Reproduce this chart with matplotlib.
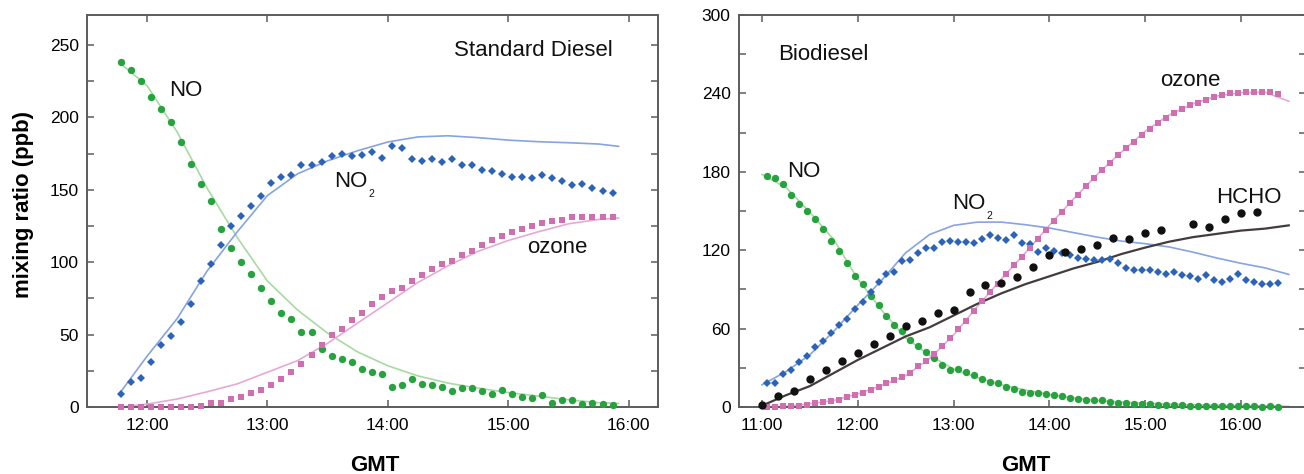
import matplotlib
matplotlib.use("Agg")
import matplotlib.pyplot as plt
from matplotlib.ticker import FixedLocator, MultipleLocator, FuncFormatter

plt.rcParams['font.family'] = ['Liberation Sans', 'DejaVu Sans']

# ---- Standard Diesel (left panel) ----
t_left = ("11:47 11:52 11:57 12:02 12:07 12:12 12:17 12:22 12:27 12:32 12:37 12:42 12:47 "
          "12:52 12:57 13:02 13:07 13:12 13:17 13:22 13:27 13:32 13:37 13:42 13:47 13:52 "
          "13:57 14:02 14:07 14:12 14:17 14:22 14:27 14:32 14:37 14:42 14:47 14:52 14:57 "
          "15:02 15:07 15:12 15:17 15:22 15:27 15:32 15:37 15:42 15:47 15:52").split()
no_left = [238, 233, 225, 214, 206, 197, 183, 168, 154, 142, 123, 110, 100, 92, 82, 73, 65,
           61, 52, 52, 40, 35, 33, 31, 26, 24, 23, 14, 15, 19, 16, 15, 14, 11, 13, 13, 11, 9,
           12, 9, 7, 6, 8, 3, 5, 5, 2, 3, 2, 1.5]
no2_left = [9, 17, 20, 31, 43, 49, 59, 71, 87, 99, 112, 125, 132, 139, 146, 155, 159, 160,
            167, 167, 169, 173, 175, 173, 174, 176, 172, 180, 179, 171, 170, 171, 169, 171,
            167, 167, 164, 163, 161, 159, 159, 158, 160, 158, 156, 153, 154, 151, 149, 148]
o3_left = [0, 0, 0, 0, 0, 0, 0, 0, 1, 2.5, 3, 5.5, 7, 9.5, 12, 15, 19, 24, 30, 36, 43, 50,
           54, 60, 65, 71, 76, 80, 82, 87, 91, 95, 99, 101, 105, 108, 112, 115, 118, 121,
           123, 125, 127, 128.5, 129, 131, 131, 131, 131, 131]

tfit_left = ("11:47 12:00 12:15 12:30 12:45 13:00 13:15 13:30 13:45 14:00 14:15 14:30 "
             "14:45 15:00 15:15 15:30 15:45 15:55").split()
no_fit_left = [237, 222, 190, 151, 117, 87, 67, 51, 38, 28.5, 21.5, 16.5, 13, 10, 7.5, 5, 3, 2.5]
no2_fit_left = [10.6, 35, 61, 94, 121, 146, 161, 170, 177, 183, 186.5, 187.3, 186, 184.3,
                183.2, 182.5, 181.6, 180]
o3_fit_left = [0, 2, 5.5, 10.5, 16, 24, 32, 44, 58, 72, 86, 97.5, 107.5, 115, 121, 126.5,
               129.5, 130.5]

# ---- Biodiesel (right panel) ----
t_right = ("11:03 11:08 11:13 11:18 11:23 11:28 11:33 11:38 11:43 11:48 11:53 11:58 "
           "12:03 12:08 12:13 12:18 12:23 12:28 12:33 12:38 12:43 12:48 12:53 12:58 "
           "13:03 13:08 13:13 13:18 13:23 13:28 13:33 13:38 13:43 13:48 13:53 13:58 "
           "14:03 14:08 14:13 14:18 14:23 14:28 14:33 14:38 14:43 14:48 14:53 14:58 "
           "15:03 15:08 15:13 15:18 15:23 15:28 15:33 15:38 15:43 15:48 15:53 15:58 "
           "16:03 16:08 16:13 16:18 16:23").split()
no_right = [177, 175, 170.5, 162, 155, 150, 144, 136.5, 127, 119.5, 110.5, 100, 94.5, 85,
            78, 70, 63, 58, 51.5, 47, 42, 37.5, 32.5, 28.5, 29, 26.5, 24.5, 21.5, 19.5,
            18.5, 15.5, 13.5, 11.5, 11, 10.7, 10.2, 9.4, 8.2, 6.9, 6.4, 5.6, 5.1, 5.1, 3.8,
            3.3, 3.1, 2.6, 2.6, 2.0, 1.8, 1.8, 1.3, 1.3, 1.0, 0.8, 0.8, 0.5, 0.5, 0.5, 0.5,
            0.5, 0.5, 0.3, 0.5, 0.3]
no2_right = [18, 18.5, 25, 28, 34.5, 39, 46, 50.5, 57, 63, 67.5, 75, 80, 88, 96, 102, 103,
             111.5, 112.5, 118, 122, 122, 126.5, 127, 126.5, 126, 125.5, 128.5, 132, 129,
             127.5, 131.5, 125.5, 125, 118.7, 121.8, 119.2, 117.9, 116.2, 114.4, 113.1,
             112.3, 112.3, 113.1, 110.5, 106, 104.7, 105.2, 104.7, 103.4, 102.1, 103.4,
             100.8, 100.1, 98.3, 100.8, 97.5, 95.7, 98.3, 102.1, 97, 95.7, 94, 94.5, 95]
o3_right = [0, 0, 0.5, 0.5, 1, 1.5, 3, 4, 4.5, 5.5, 7.5, 9.5, 11, 13, 15, 18, 20.5, 23, 26,
            31, 35.5, 40.6, 46.7, 52.6, 59.5, 66.1, 73.8, 81.4, 87.8, 94.2, 101.9, 108.8,
            115.1, 122, 128.7, 135.6, 142.7, 149.1, 156, 162.4, 169.3, 175.1, 181, 187,
            193, 198, 203, 208, 213, 217, 221, 225, 228, 231, 233, 235, 237, 238.5, 240,
            240.5, 241, 241, 241, 241, 239.5]
t_hcho = ("11:00 11:10 11:20 11:30 11:40 11:50 12:00 12:10 12:20 12:30 12:40 12:50 13:00 "
          "13:10 13:20 13:30 13:40 13:50 14:00 14:10 14:20 14:30 14:40 14:50 15:00 15:10 "
          "15:30 15:40 15:50 16:00 16:10").split()
hcho_right = [1.8, 8.2, 12, 21.7, 28.1, 35.2, 41.4, 48, 54.1, 62, 65.9, 71.8, 74.2, 87.7, 93,
              95.1, 99.7, 107, 116.4, 118.5, 120.8, 123.6, 129.3, 128.9, 132.8, 135.8,
              140.4, 137.9, 143.7, 148.1, 149.3]

tfit_right = ("11:00 11:15 11:30 11:45 12:00 12:15 12:30 12:45 13:00 13:15 13:30 13:45 "
              "14:00 14:15 14:30 14:45 15:00 15:15 15:30 15:45 16:00 16:15 16:30").split()
no_fit_right = [178, 168, 149, 128, 98, 74, 53, 39.5, 29, 22.5, 17, 13, 9.5, 7, 5, 3.8, 3,
                2.2, 1.7, 1.3, 1, 0.7, 0.5]
no2_fit_right = [17, 27, 40, 58, 78, 97, 118, 132, 139, 141.5, 141.5, 139.5, 137, 133.5, 130,
                 127, 125, 122.5, 118.5, 114, 110, 106.5, 101.5]
o3_fit_right = [0, 0.5, 2.5, 5, 10, 16.5, 24, 37, 55, 77, 98, 118, 139, 159, 178, 195, 211,
                223.5, 232, 238, 240.5, 241, 234]
hcho_fit_right = [1, 9, 16, 26, 36, 45, 54, 61, 70, 79, 87, 94, 100, 106, 111, 117, 122,
                  126.5, 130, 132.5, 135, 136.5, 139]

# colours
GREEN, GREEN_L = '#26a23e', '#a6dba0'
BLUE, BLUE_L = '#2c63b6', '#86a3e2'
PINK, PINK_L = '#cf6fb1', '#e6a9d6'
BLACK, BLACK_L = '#111111', '#433c3c'
SPINE = '#5c5c5c'


def hrs(ts):
    return [int(t[:2]) + int(t[3:]) / 60 for t in ts]


def style(ax, ymax, ymajor, yminor, hours):
    ax.set_ylim(0, ymax)
    ax.yaxis.set_major_locator(MultipleLocator(ymajor))
    ax.yaxis.set_minor_locator(MultipleLocator(yminor))
    ax.xaxis.set_major_locator(FixedLocator(hours))
    ax.xaxis.set_major_formatter(FuncFormatter(lambda v, p: "%d:00" % round(v)))
    ax.tick_params(which='both', direction='in', top=True, right=True,
                   length=5, width=1.1, color=SPINE, labelsize=12.5)
    ax.tick_params(axis='x', pad=8)
    ax.tick_params(axis='y', pad=6)
    for s in ax.spines.values():
        s.set_color(SPINE)
        s.set_linewidth(1.4)


def label(ax, x, y, s, sub=None, ha='left'):
    t = ax.text(x, y, s, fontsize=16, va='baseline', ha=ha, color='#111111')
    if sub:
        ax.annotate(sub, xy=(1, 0), xycoords=t, xytext=(0.8, -1.3), textcoords='offset points',
                    fontsize=7.5, va='center', ha='left', color='#111111')


fig = plt.figure(figsize=(13.04, 4.74), dpi=100)
axl = fig.add_axes([87 / 1304, 67 / 474, 571 / 1304, 392 / 474])
axr = fig.add_axes([739 / 1304, 67 / 474, 567 / 1304, 392 / 474])

pt = dict(linestyle='none', clip_on=False, zorder=3, markeredgewidth=0)

# left panel
axl.plot(hrs(tfit_left), no_fit_left, color=GREEN_L, lw=1.2, zorder=2)
axl.plot(hrs(tfit_left), no2_fit_left, color=BLUE_L, lw=1.2, zorder=2)
axl.plot(hrs(tfit_left), o3_fit_left, color=PINK_L, lw=1.2, zorder=2)
axl.plot(hrs(t_left), no_left, marker='o', ms=5.3, color=GREEN, **pt)
axl.plot(hrs(t_left), no2_left, marker='D', ms=4.2, color=BLUE, **pt)
axl.plot(hrs(t_left), o3_left, marker='s', ms=4.4, color=PINK, **pt)
axl.set_xlim(11.502, 16.244)
style(axl, 270.7, 50, 25, [12, 13, 14, 15, 16])

label(axl, 15.87, 242.7, 'Standard Diesel', ha='right')
label(axl, 12.183, 214.6, 'NO')
label(axl, 13.551, 151.7, 'NO', '2')
label(axl, 15.156, 106.4, 'ozone')

# right panel
axr.plot(hrs(tfit_right), no_fit_right, color=GREEN_L, lw=1.2, zorder=2)
axr.plot(hrs(tfit_right), no2_fit_right, color=BLUE_L, lw=1.2, zorder=2)
axr.plot(hrs(tfit_right), o3_fit_right, color=PINK_L, lw=1.2, zorder=2)
axr.plot(hrs(tfit_right), hcho_fit_right, color=BLACK_L, lw=1.6, zorder=2)
axr.plot(hrs(t_right), no_right, marker='o', ms=5.3, color=GREEN, **pt)
axr.plot(hrs(t_right), no2_right, marker='D', ms=4.2, color=BLUE, **pt)
axr.plot(hrs(t_right), o3_right, marker='s', ms=4.4, color=PINK, **pt)
axr.plot(hrs(t_hcho), hcho_right, marker='o', ms=6.0, color=BLACK, **pt)
axr.set_xlim(10.76, 16.68)
style(axr, 300, 60, 30, [11, 12, 13, 14, 15, 16])

label(axr, 11.167, 265.6, 'Biodiesel')
label(axr, 11.264, 175.8, 'NO')
label(axr, 12.98, 151.3, 'NO', '2')
label(axr, 15.155, 245.7, 'ozone')
label(axr, 15.746, 156.3, 'HCHO')

fig.text(24 / 1304, 1 - 205 / 474, 'mixing ratio (ppb)', rotation=90, ha='center',
         va='center', fontsize=16, fontweight='bold')
fig.text(375 / 1304, 0.006, 'GMT', ha='center', va='baseline', fontsize=16, fontweight='bold')
fig.text(1026 / 1304, 0.006, 'GMT', ha='center', va='baseline', fontsize=16,
         fontweight='bold')

fig.savefig('out.png', dpi=100)
